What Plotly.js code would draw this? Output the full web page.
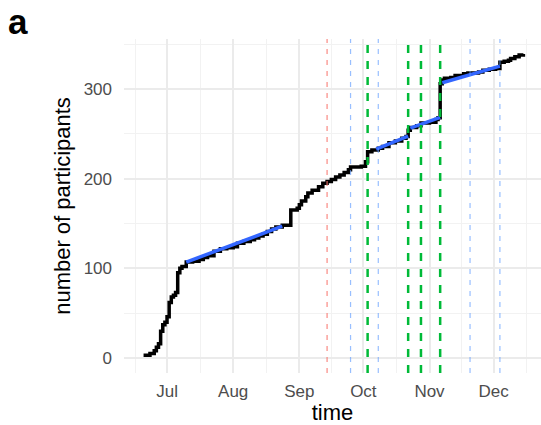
<!DOCTYPE html>
<html>
<head>
<meta charset="utf-8">
<script src="https://cdn.plot.ly/plotly-3.0.1.min.js"></script>
<style>html,body{margin:0;padding:0;background:#fff;}#chart{width:541px;height:425px;}</style>
</head>
<body>
<div id="chart"></div>
<script>
// cumulative participants (step line)
const dates = ['2020-06-20','2020-06-23','2020-06-25','2020-06-26','2020-06-27','2020-06-28','2020-06-29','2020-06-30',
  '2020-07-01','2020-07-02','2020-07-03','2020-07-04','2020-07-05','2020-07-06','2020-07-07','2020-07-08','2020-07-10',
  '2020-07-13','2020-07-16','2020-07-18','2020-07-20','2020-07-23','2020-07-26','2020-07-29','2020-08-01','2020-08-03',
  '2020-08-06','2020-08-09','2020-08-11','2020-08-13','2020-08-15','2020-08-17','2020-08-19','2020-08-21','2020-08-24',
  '2020-08-28','2020-08-31','2020-09-01','2020-09-02','2020-09-04','2020-09-05','2020-09-07','2020-09-10','2020-09-12',
  '2020-09-14','2020-09-16','2020-09-18','2020-09-20','2020-09-22','2020-09-24','2020-09-25','2020-09-30','2020-10-02',
  '2020-10-03','2020-10-05','2020-10-08','2020-10-10','2020-10-13','2020-10-16','2020-10-19','2020-10-21','2020-10-22',
  '2020-10-23','2020-10-26','2020-10-28','2020-11-01','2020-11-04','2020-11-05','2020-11-06','2020-11-07','2020-11-08',
  '2020-11-11','2020-11-13','2020-11-17','2020-11-19','2020-11-24','2020-11-26','2020-11-29','2020-12-02','2020-12-04',
  '2020-12-06','2020-12-08','2020-12-09','2020-12-11','2020-12-13','2020-12-15'];
const participants = [3,5,8,12,16,30,37,40,
  46,62,68,70,73,95,100,102,107,
  108,110,112,114,119,122,123,124,128,
  130,132,134,136,138,141,144,146,148,
  165,167,171,175,180,184,187,191,195,
  197,199,202,204,207,210,213,214,219,
  230,232,234,236,240,242,245,247,254,
  257,259,262,263,266,268,306,310,312,
  313,315,317,318,319,321,322,323,330,
  331,332,334,336,338,339];

// linear fit segments
const fitStart = ['2020-07-10','2020-10-07','2020-10-23','2020-11-07'];
const fitEnd   = ['2020-08-24','2020-10-22','2020-11-06','2020-12-04'];
const fitStartVal = [107,233,256.5,307];
const fitEndVal   = [147,247.5,268.5,325.5];

// event markers
const redEvents = ['2020-09-14'];
const blueEvents = ['2020-09-25','2020-10-08','2020-11-20','2020-12-04'];
const greenEvents = ['2020-10-03','2020-10-22','2020-10-28','2020-11-06'];

// axis ticks
const xTickVals = ['2020-07-01','2020-08-01','2020-09-01','2020-10-01','2020-11-01','2020-12-01'];
const xTickText = ['Jul','Aug','Sep','Oct','Nov','Dec'];
const xMinorVals = ['2020-06-16','2020-07-16 12:00','2020-08-16 12:00','2020-09-16','2020-10-16 12:00','2020-11-16','2020-12-16 12:00'];
const yTickVals = [0,100,200,300];

const traces = [{
  x: dates, y: participants, type: 'scatter', mode: 'lines',
  line: {shape: 'hv', color: '#000000', width: 3.5}, hoverinfo: 'skip'
}];
for (let i = 0; i < fitStart.length; i++) {
  traces.push({
    x: [fitStart[i], fitEnd[i]], y: [fitStartVal[i], fitEndVal[i]],
    type: 'scatter', mode: 'lines', line: {color: '#3366FF', width: 3.5}, hoverinfo: 'skip'
  });
}

const shapes = [];
function vline(d, color, width, dash) {
  shapes.push({type: 'line', xref: 'x', yref: 'paper', x0: d, x1: d, y0: 0, y1: 1,
    line: {color: color, width: width, dash: dash}, layer: 'above'});
}
redEvents.forEach(d => vline(d, 'rgba(248,118,109,0.85)', 1.2, '5px,6px'));
blueEvents.forEach(d => vline(d, 'rgba(97,156,255,0.65)', 1.2, '5px,6px'));
greenEvents.forEach(d => vline(d, 'rgb(0,186,56)', 2.5, '8px,8px'));

const layout = {
  width: 541, height: 425,
  margin: {l: 124, r: 0, t: 39, b: 52},
  paper_bgcolor: '#ffffff', plot_bgcolor: '#ffffff',
  showlegend: false,
  font: {family: 'Liberation Sans, Arial, sans-serif'},
  annotations: [{
    text: '<b>a</b>', showarrow: false, font: {size: 35, color: '#000'},
    xref: 'paper', yref: 'paper', x: -117/417, xanchor: 'left',
    y: 1 + 38/334, yanchor: 'top', borderpad: 0
  }],
  xaxis: {
    type: 'date', range: ['2020-06-10 20:00', '2020-12-23 06:00'],
    tickmode: 'array', tickvals: xTickVals, ticktext: xTickText,
    tickfont: {size: 17, color: '#4D4D4D'}, ticks: '', ticklabelstandoff: 6,
    showgrid: true, gridcolor: '#EBEBEB', gridwidth: 2, zeroline: false, showline: false,
    minor: {tickmode: 'array', tickvals: xMinorVals, showgrid: true, gridcolor: '#F2F2F2', gridwidth: 1, ticks: ''},
    title: {text: 'time', font: {size: 22, color: '#000'}, standoff: 5}
  },
  yaxis: {
    range: [-16.7, 355.8], tickmode: 'array', tickvals: yTickVals,
    tickfont: {size: 17, color: '#4D4D4D'}, ticks: '', ticklabelstandoff: 11,
    showgrid: true, gridcolor: '#EBEBEB', gridwidth: 2, zeroline: false, showline: false,
    minor: {dtick: 50, tick0: 0, showgrid: true, gridcolor: '#F2F2F2', gridwidth: 1, ticks: ''},
    title: {text: 'number of participants', font: {size: 22, color: '#000'}, standoff: 6}
  },
  shapes: shapes
};

Plotly.newPlot('chart', traces, layout, {staticPlot: true, displayModeBar: false});
</script>
</body>
</html>
